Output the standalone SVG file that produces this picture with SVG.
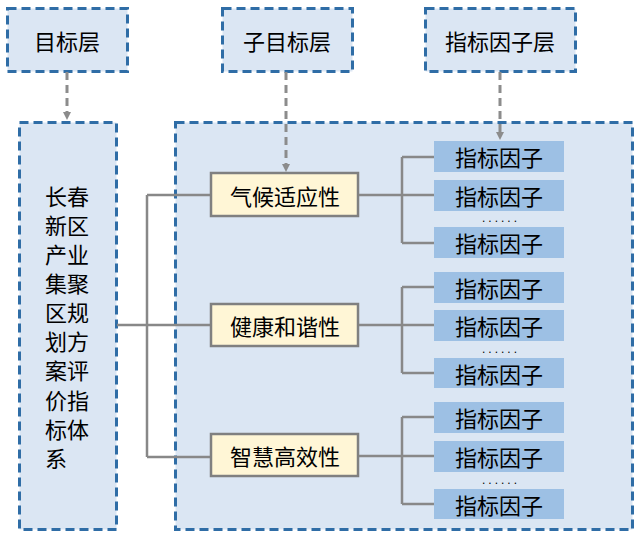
<svg xmlns="http://www.w3.org/2000/svg" width="640" height="536" viewBox="0 0 640 536">
<style>
.layer{fill:#DBE6F3;stroke:#2F6DA6;stroke-width:3;stroke-dasharray:9 5}
.sub{fill:#FFF6D6;stroke:#808080;stroke-width:2.5}
.fac{fill:#9DC0E4}
.t{font-family:"Noto Sans CJK SC","Noto Sans",sans-serif;font-size:22px;fill:#000;text-anchor:middle;dominant-baseline:central}
.vt{font-family:"Noto Sans CJK SC","Noto Sans",sans-serif;font-size:22px;fill:#000;text-anchor:start;dominant-baseline:central}
.ln{fill:none;stroke:#888;stroke-width:2.5}
.da{fill:none;stroke:#8C8C8C;stroke-width:3;stroke-dasharray:8 5}
.dots{font-family:"Liberation Sans",sans-serif;font-size:12px;letter-spacing:3px;fill:#000;text-anchor:middle}
</style>
<defs>
<marker id="ah" markerWidth="8" markerHeight="8" refX="4" refY="4" orient="auto" markerUnits="userSpaceOnUse" viewBox="0 0 8 8">
<path d="M0,0 L8,4 L0,8 z" fill="#8C8C8C"/>
</marker>
</defs>
<rect width="640" height="536" fill="#fff"/>
<g id="mainframe"><rect class="layer" x="175.5" y="122.5" width="457" height="407"/></g>
<g id="goal"><rect class="layer" x="19.5" y="122.5" width="97" height="407"/>
<text class="vt"><tspan x="45" y="195">长春</tspan><tspan x="45" y="224">新区</tspan><tspan x="45" y="253">产业</tspan><tspan x="45" y="282">集聚</tspan><tspan x="45" y="311">区规</tspan><tspan x="45" y="340">划方</tspan><tspan x="45" y="369">案评</tspan><tspan x="45" y="399">价指</tspan><tspan x="45" y="428">标体</tspan><tspan x="45" y="457">系</tspan></text></g>
<g id="hdr1"><rect class="layer" x="7.5" y="8.5" width="120" height="63"/><text class="t" x="67" y="40">目标层</text></g>
<g id="hdr2"><rect class="layer" x="222.5" y="8.5" width="130" height="63"/><text class="t" x="287" y="40">子目标层</text></g>
<g id="hdr3"><rect class="layer" x="425.5" y="8.5" width="150" height="63"/><text class="t" x="500" y="40">指标因子层</text></g>
<g id="connectors">
<path class="da" d="M67,72 V116" marker-end="url(#ah)"/>
<path class="da" d="M286,72 V168" marker-end="url(#ah)"/>
<path class="da" d="M500,72 V136" marker-end="url(#ah)"/>
<path class="ln" d="M117,325 H153 M147,195 V457 M147,195 H211 M147,325 H211 M147,457 H211"/>
<path class="ln" d="M358,195 H402 M402,157 V243 M402,157 H434 M402,195 H434 M402,243 H434"/>
<path class="ln" d="M358,325 H402 M402,287 V373 M402,287 H434 M402,325 H434 M402,373 H434"/>
<path class="ln" d="M358,456 H402 M402,417 V504 M402,417 H434 M402,456 H434 M402,504 H434"/>
</g>
<g id="sub1"><rect class="sub" x="211" y="173" width="147" height="43"/><text class="t" x="285" y="195">气候适应性</text></g>
<g id="sub2"><rect class="sub" x="211" y="304" width="147" height="42"/><text class="t" x="285" y="325">健康和谐性</text></g>
<g id="sub3"><rect class="sub" x="211" y="434" width="147" height="42"/><text class="t" x="285" y="455">智慧高效性</text></g>
<g id="f1a"><rect class="fac" x="434" y="141" width="130" height="31"/><text class="t" x="499" y="156">指标因子</text></g>
<g id="f1b"><rect class="fac" x="434" y="180" width="130" height="31"/><text class="t" x="499" y="195">指标因子</text></g>
<g id="f1c"><rect class="fac" x="434" y="227" width="130" height="31"/><text class="t" x="499" y="242">指标因子</text></g>
<g id="f2a"><rect class="fac" x="434" y="272" width="130" height="31"/><text class="t" x="499" y="287">指标因子</text></g>
<g id="f2b"><rect class="fac" x="434" y="310" width="130" height="31"/><text class="t" x="499" y="325">指标因子</text></g>
<g id="f2c"><rect class="fac" x="434" y="358" width="130" height="30"/><text class="t" x="499" y="373">指标因子</text></g>
<g id="f3a"><rect class="fac" x="434" y="402" width="130" height="31"/><text class="t" x="499" y="417">指标因子</text></g>
<g id="f3b"><rect class="fac" x="434" y="441" width="130" height="31"/><text class="t" x="499" y="456">指标因子</text></g>
<g id="f3c"><rect class="fac" x="434" y="489" width="130" height="30"/><text class="t" x="499" y="504">指标因子</text></g>
<g id="dots">
<text class="dots" x="501" y="222">......</text>
<text class="dots" x="501" y="353">......</text>
<text class="dots" x="501" y="484">......</text>
</g>
</svg>
